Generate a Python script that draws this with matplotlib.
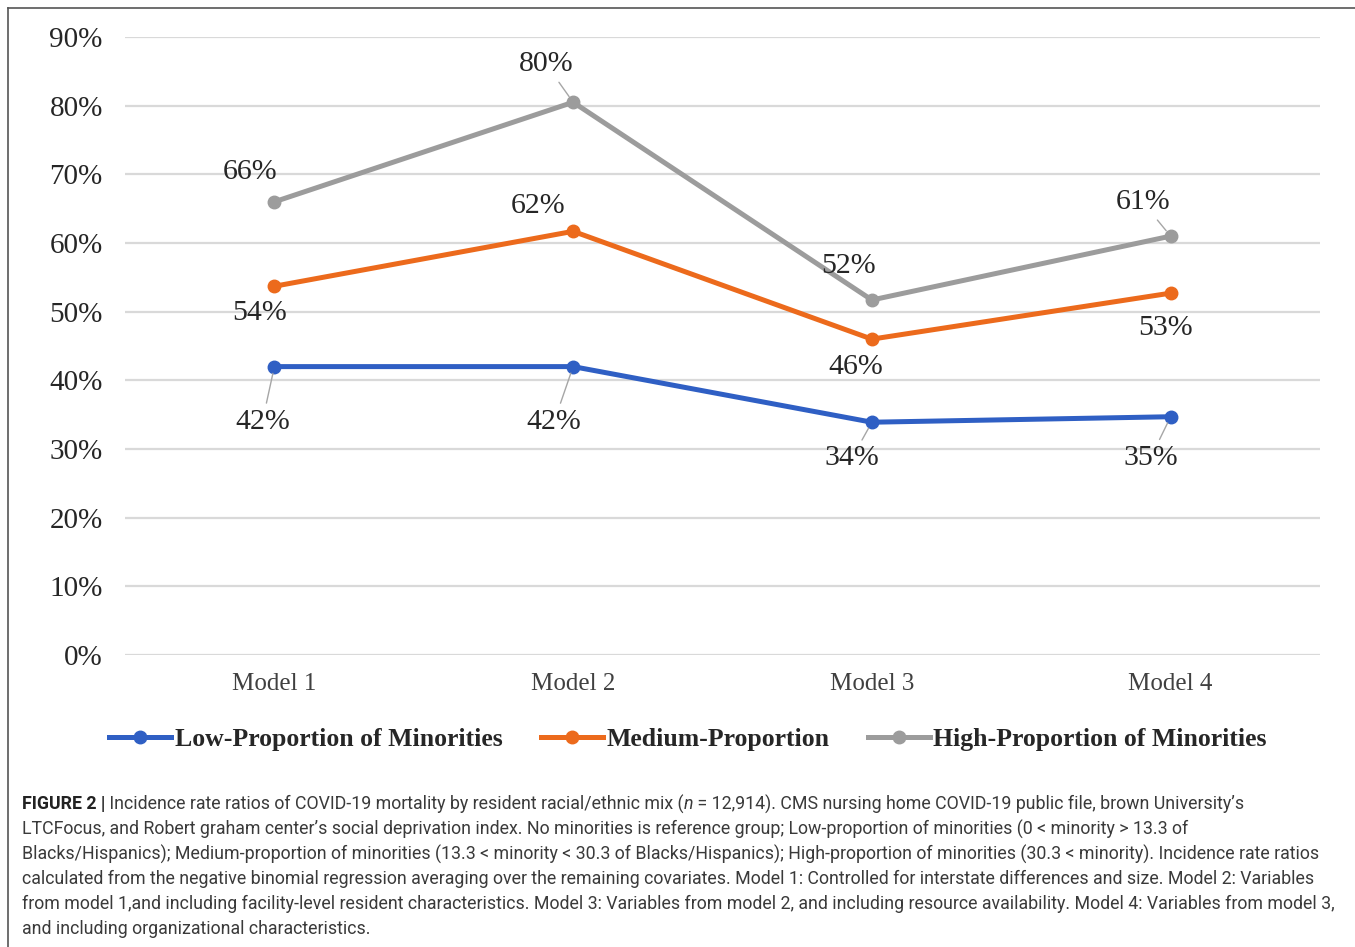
import matplotlib
matplotlib.use("Agg")
import matplotlib.pyplot as plt
from matplotlib.lines import Line2D

categories = ["Model 1", "Model 2", "Model 3", "Model 4"]
series_names = ["Low-Proportion of Minorities", "Medium-Proportion", "High-Proportion of Minorities"]
low_vals = [0.42, 0.42, 0.339, 0.347]
med_vals = [0.537, 0.617, 0.46, 0.527]
high_vals = [0.66, 0.805, 0.517, 0.61]
low_labels = ["42%", "42%", "34%", "35%"]
med_labels = ["54%", "62%", "46%", "53%"]
high_labels = ["66%", "80%", "52%", "61%"]
y_ticks = [0, 0.1, 0.2, 0.3, 0.4, 0.5, 0.6, 0.7, 0.8, 0.9]
y_tick_labels = ["0%", "10%", "20%", "30%", "40%", "50%", "60%", "70%", "80%", "90%"]

caption_lines = [
    "LTCFocus, and Robert graham center\u2019s social deprivation index. No minorities is reference group; Low-proportion of minorities (0 < minority > 13.3 of",
    "Blacks/Hispanics); Medium-proportion of minorities (13.3 < minority < 30.3 of Blacks/Hispanics); High-proportion of minorities (30.3 < minority). Incidence rate ratios",
    "calculated from the negative binomial regression averaging over the remaining covariates. Model 1: Controlled for interstate differences and size. Model 2: Variables",
    "from model 1,and including facility-level resident characteristics. Model 3: Variables from model 2, and including resource availability. Model 4: Variables from model 3,",
    "and including organizational characteristics.",
]

W, H = 1355, 947
fig = plt.figure(figsize=(W / 100, H / 100), dpi=100)
fig.patch.set_facecolor("white")

ax = fig.add_axes([125 / W, 1 - 655 / H, (1320 - 125) / W, (655 - 37) / H])
ax.set_xlim(-0.5, 3.5)
ax.set_ylim(0, 0.9)
for s in ax.spines.values():
    s.set_visible(False)
ax.set_yticks(y_ticks)
ax.set_yticklabels(y_tick_labels)
ax.set_xticks(range(len(categories)))
ax.set_xticklabels(categories)
ax.tick_params(length=0)
ax.tick_params(axis="y", pad=16)
ax.tick_params(axis="x", pad=13)
serif = "Liberation Serif"
for lbl in ax.get_yticklabels():
    lbl.set_fontfamily(serif)
    lbl.set_fontsize(21)
    lbl.set_color("#262626")
for lbl in ax.get_xticklabels():
    lbl.set_fontfamily(serif)
    lbl.set_fontsize(18)
    lbl.set_color("#404040")
ax.grid(axis="y", color="#d9d9d9", lw=1.6)
ax.set_axisbelow(True)

colors = ["#2f5fc4", "#ec6a1c", "#9c9c9c"]
x = list(range(len(categories)))
all_vals = [low_vals, med_vals, high_vals]
for vals, c, name in zip(all_vals, colors, series_names):
    ax.plot(x, vals, color=c, lw=3.6, marker="o", ms=9, label=name, zorder=3, clip_on=False)

# label offsets in pixels (dx, dy); positive dy is upward
px = 0.72
label_specs = [
    (low_vals, low_labels, [(-12, -55, True), (-19, -55, True), (-20, -36, True), (-20, -41, True)]),
    (med_vals, med_labels, [(-15, -27, False), (-35, 25, False), (-16, -28, False), (-5, -35, False)]),
    (high_vals, high_labels, [(-24, 30, False), (-27, 38, True), (-23, 34, False), (-28, 34, True)]),
]
for vals, labels, offs in label_specs:
    for i, (v, t, (dx, dy, leader)) in enumerate(zip(vals, labels, offs)):
        ap = None
        if leader:
            ap = dict(arrowstyle="-", color="#a6a6a6", lw=1.0, shrinkA=2, shrinkB=5)
        ax.annotate(t, xy=(i, v), xytext=(dx * px, dy * px), textcoords="offset points",
                    ha="center", va="center", fontsize=21.5, fontfamily=serif, color="#262626",
                    arrowprops=ap, zorder=4)

handles = [Line2D([], [], color=c, lw=3.6, marker="o", ms=9) for c in colors]
leg = fig.legend(handles, series_names, loc="center", bbox_to_anchor=(688 / W, 1 - 739 / H), ncol=3,
                 frameon=False, handlelength=2.4, handletextpad=0.15, columnspacing=1.5,
                 prop=dict(family=serif, weight="bold", size=18.5))
for t in leg.get_texts():
    t.set_color("#262626")

# frame lines (top and left)
fig.add_artist(Line2D([8 / W, 1], [1 - 8 / H, 1 - 8 / H], color="#555555", lw=1.2, transform=fig.transFigure))
fig.add_artist(Line2D([8 / W, 8 / W], [1 - 8 / H, 0], color="#555555", lw=1.2, transform=fig.transFigure))

# caption
cap_font = "Roboto"
cap_size = 12.75
cap_color = "#3a3a3a"
x0 = 22 / W
y0 = 1 - 804 / H
t1 = fig.text(x0, y0, "FIGURE 2 |", fontsize=cap_size, fontfamily=cap_font, fontweight="bold",
              color="#222222", va="center")
a1 = plt.annotate(" Incidence rate ratios of COVID-19 mortality by resident racial/ethnic mix (", xy=(1, 0.5),
                  xycoords=t1, va="center", ha="left", fontsize=cap_size, fontfamily=cap_font, color=cap_color,
                  annotation_clip=False)
a2 = plt.annotate("n", xy=(1, 0.5), xycoords=a1, va="center", ha="left", fontsize=cap_size,
                  fontfamily=cap_font, fontstyle="italic", color=cap_color, annotation_clip=False)
a3 = plt.annotate(" = 12,914). CMS nursing home COVID-19 public file, brown University\u2019s", xy=(1, 0.5),
                  xycoords=a2, va="center", ha="left", fontsize=cap_size, fontfamily=cap_font, color=cap_color,
                  annotation_clip=False)
for k, line in enumerate(caption_lines):
    fig.text(x0, 1 - (829 + 25 * k) / H, line, fontsize=cap_size, fontfamily=cap_font, color=cap_color,
             va="center", ha="left")

fig.savefig("out.png", dpi=100, facecolor="white")
